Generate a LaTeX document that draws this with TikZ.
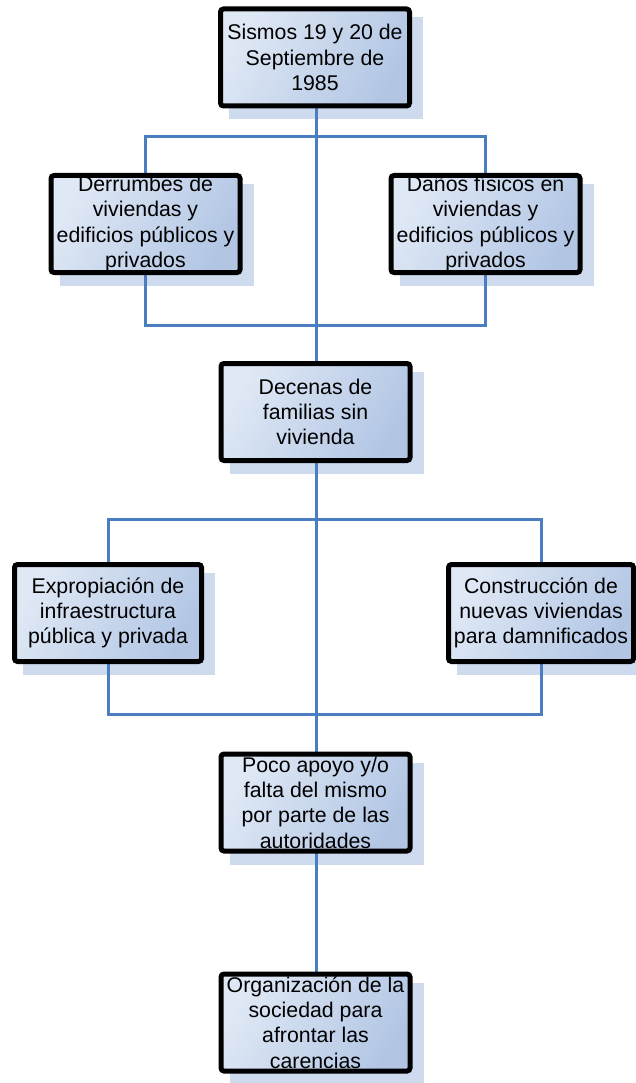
\documentclass[tikz,border=0pt]{standalone}
\usepackage{fontspec}
\setmainfont{Liberation Sans}
\definecolor{connc}{RGB}{74,126,193}
\definecolor{boxl}{RGB}{223,232,245}
\definecolor{boxr}{RGB}{178,198,228}
\definecolor{shadowc}{RGB}{206,219,239}
\pgfdeclarelayer{shadowlayer}
\pgfdeclarelayer{linelayer}
\pgfsetlayers{shadowlayer,linelayer,main}
\newcommand\boxshadow[1]{\fill[shadowc] ([shift={(11,11)}]#1.north west) rectangle ([shift={(11,11)}]#1.south east);}
\begin{document}
\begin{tikzpicture}[x=1pt,y=-1pt,
  box/.style={draw=black, line width=5pt, rounded corners=3pt,
    left color=boxl, right color=boxr, shading angle=60,
    font=\fontsize{21.3}{25.3}\selectfont, align=center, inner sep=0pt,
    minimum width=189pt, minimum height=97pt},
  conn/.style={draw=connc, line width=3pt}]
\useasboundingbox (0,0) rectangle (636,1083);

\node[box] (n1) at (315,57.5) {Sismos 19 y 20 de\\Septiembre de\\1985};
\node[box] (n2) at (145.5,224) {Derrumbes de\\viviendas y\\edificios públicos y\\privados};
\node[box] (n3) at (485.5,224) {Daños físicos en\\viviendas y\\edificios públicos y\\privados};
\node[box] (n4) at (315.5,412) {Decenas de\\familias sin\\vivienda};
\node[box, minimum width=187pt] (n5) at (108,613) {Expropiación de\\infraestructura\\pública y privada};
\node[box, minimum width=185pt] (n6) at (541,613) {Construcción de\\nuevas viviendas\\para damnificados};
\node[box] (n7) at (315.5,802.5) {Poco apoyo y/o\\falta del mismo\\por parte de las\\autoridades};
\node[box] (n8) at (315.5,1022.5) {Organización de la\\sociedad para\\afrontar las\\carencias};

\coordinate (j1) at (316,137);
\coordinate (j2) at (316,325);
\coordinate (j3) at (316,519);
\coordinate (j4) at (316,714);

\begin{pgfonlayer}{shadowlayer}
\foreach \n in {n1,n2,n3,n4,n5,n6,n7,n8} {\boxshadow{\n}}
\end{pgfonlayer}

\begin{pgfonlayer}{linelayer}
\draw[conn] (n1.south -| j1) -- (n8.north -| j1);
\draw[conn] (n2.north) |- (j1) -| (n3.north);
\draw[conn] (n2.south) |- (j2) -| (n3.south);
\draw[conn] (n5.north) |- (j3) -| (n6.north);
\draw[conn] (n5.south) |- (j4) -| (n6.south);
\end{pgfonlayer}
\end{tikzpicture}
\end{document}
